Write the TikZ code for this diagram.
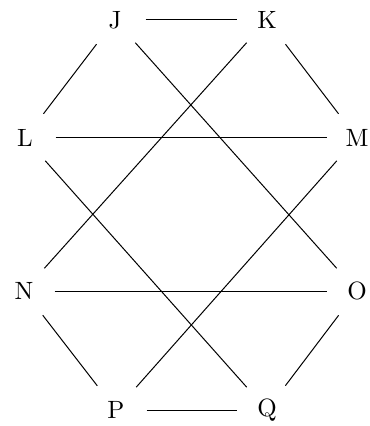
\documentclass[tikz,border=0pt]{standalone}
\begin{document}
\begin{tikzpicture}[x=0.4pt,y=-0.4pt,
  vtx/.style={circle,minimum size=24pt,inner sep=0pt},
  edge/.style={draw,line width=0.4pt}]
\useasboundingbox (0,0) rectangle (369,426);
\node[vtx] (J) at (115,20) {J};
\node[vtx] (K) at (267,20) {K};
\node[vtx] (L) at (25,138) {L};
\node[vtx] (M) at (357,138) {M};
\node[vtx] (N) at (24,291) {N};
\node[vtx] (O) at (357,291) {O};
\node[vtx] (P) at (116,410) {P};
\node[vtx] (Q) at (267,410) {Q};
\path[edge] (J) -- (K);
\path[edge] (J) -- (L);
\path[edge] (J) -- (O);
\path[edge] (K) -- (M);
\path[edge] (K) -- (N);
\path[edge] (L) -- (M);
\path[edge] (L) -- (Q);
\path[edge] (M) -- (P);
\path[edge] (N) -- (O);
\path[edge] (N) -- (P);
\path[edge] (O) -- (Q);
\path[edge] (P) -- (Q);
\end{tikzpicture}
\end{document}
